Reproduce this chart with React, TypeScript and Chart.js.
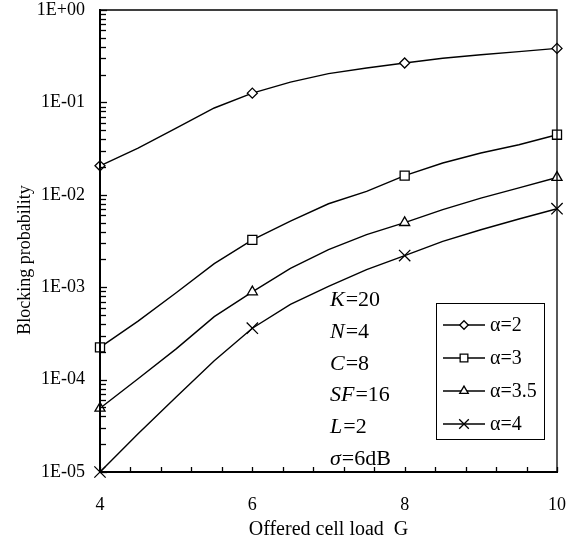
import React, { useEffect, useRef } from "react";
import { Chart, registerables } from "chart.js";

Chart.register(...registerables);

const G = [4, 4.5, 5, 5.5, 6, 6.5, 7, 7.5, 8, 8.5, 9, 9.5, 10];
const alpha2 = [0.0206, 0.032, 0.0528, 0.087, 0.126, 0.166, 0.205, 0.236, 0.267, 0.3, 0.328, 0.354, 0.384];
const alpha3 = [2.23e-4, 4.3e-4, 8.7e-4, 1.8e-3, 3.25e-3, 5.2e-3, 8.0e-3, 0.0109, 0.0161, 0.0221, 0.0283, 0.0348, 0.0447];
const alpha35 = [4.9e-5, 1.02e-4, 2.15e-4, 4.8e-4, 8.9e-4, 1.6e-3, 2.55e-3, 3.7e-3, 5.0e-3, 6.9e-3, 9.2e-3, 0.0119, 0.0154];
const alpha4 = [1e-5, 2.6e-5, 6.5e-5, 1.6e-4, 3.6e-4, 6.5e-4, 1.02e-3, 1.55e-3, 2.2e-3, 3.13e-3, 4.19e-3, 5.47e-3, 7.07e-3];
const seriesLabels = ["α=2", "α=3", "α=3.5", "α=4"];
const markerX = [4, 6, 8, 10];
const xTickLabels = [4, 6, 8, 10];
const yTickValues = [1e-5, 1e-4, 1e-3, 1e-2, 1e-1, 1];
const params: [string, string][] = [
  ["K", "=20"],
  ["N", "=4"],
  ["C", "=8"],
  ["SF", "=16"],
  ["L", "=2"],
  ["σ", "=6dB"],
];

const FONT = "'Liberation Serif', 'Times New Roman', serif";
const styles = ["rectRot", "rect", "triangle", "crossRot"];
const radii = [5, 6.4, 5.8, 8];

function drawMarker(ctx: CanvasRenderingContext2D, style: string, r: number, x: number, y: number) {
  ctx.beginPath();
  if (style === "rectRot") {
    ctx.moveTo(x, y - r);
    ctx.lineTo(x + r, y);
    ctx.lineTo(x, y + r);
    ctx.lineTo(x - r, y);
    ctx.closePath();
    ctx.fill();
    ctx.stroke();
  } else if (style === "rect") {
    const s = r * Math.SQRT1_2;
    ctx.rect(x - s, y - s, 2 * s, 2 * s);
    ctx.fill();
    ctx.stroke();
  } else if (style === "triangle") {
    ctx.moveTo(x, y - r);
    ctx.lineTo(x + r * Math.sin((2 * Math.PI) / 3), y + r / 2);
    ctx.lineTo(x - r * Math.sin((2 * Math.PI) / 3), y + r / 2);
    ctx.closePath();
    ctx.fill();
    ctx.stroke();
  } else {
    const d = r * Math.SQRT1_2;
    ctx.moveTo(x - d, y - d);
    ctx.lineTo(x + d, y + d);
    ctx.moveTo(x + d, y - d);
    ctx.lineTo(x - d, y + d);
    ctx.stroke();
  }
}

export default function App() {
  const ref = useRef<HTMLCanvasElement | null>(null);
  useEffect(() => {
    if (!ref.current) return;
    const all = [alpha2, alpha3, alpha35, alpha4];
    const datasets = all.map((arr, i) => ({
      label: seriesLabels[i],
      data: arr.map((v, j) => ({ x: G[j], y: v })),
      borderColor: "#000",
      borderWidth: 1.4,
      backgroundColor: "#fff",
      pointStyle: styles[i],
      pointBorderColor: "#000",
      pointBackgroundColor: "#fff",
      pointBorderWidth: 1.3,
      pointRadius: (ctx: any) => (ctx.raw && markerX.includes(ctx.raw.x) ? radii[i] : 0),
      tension: 0,
      clip: false as any,
    }));

    const deco = {
      id: "deco",
      afterDraw(chart: any) {
        const ctx = chart.ctx;
        const xs = chart.scales.x;
        const ys = chart.scales.y;
        const { left, right, top, bottom } = chart.chartArea;
        ctx.save();
        ctx.strokeStyle = "#000";
        // frame
        ctx.lineWidth = 1.3;
        ctx.beginPath();
        ctx.moveTo(left, top);
        ctx.lineTo(right, top);
        ctx.lineTo(right, bottom);
        ctx.stroke();
        ctx.lineWidth = 2;
        ctx.beginPath();
        ctx.moveTo(left, top - 1);
        ctx.lineTo(left, bottom);
        ctx.lineTo(right + 1, bottom);
        ctx.stroke();
        // y ticks
        ctx.lineWidth = 1.3;
        for (let e = -5; e <= 0; e++) {
          for (let m = 1; m <= 9; m++) {
            const v = m * Math.pow(10, e);
            if (v > 1.0000001) continue;
            const py = Math.round(ys.getPixelForValue(v)) + 0.5;
            ctx.beginPath();
            ctx.moveTo(left, py);
            ctx.lineTo(left + (m === 1 ? 7 : 6), py);
            ctx.stroke();
          }
        }
        // x ticks
        for (let k = 0; k <= 15; k++) {
          const v = 4 + 0.4 * k;
          const px = Math.round(xs.getPixelForValue(v)) + 0.5;
          ctx.beginPath();
          ctx.moveTo(px, bottom);
          ctx.lineTo(px, bottom - 5);
          ctx.stroke();
        }
        // axis titles
        ctx.fillStyle = "#000";
        ctx.textAlign = "center";
        ctx.textBaseline = "alphabetic";
        ctx.font = `20px ${FONT}`;
        ctx.fillText("Offered cell load  G", (left + right) / 2, 535);
        ctx.font = `18px ${FONT}`;
        ctx.save();
        ctx.translate(30, 260);
        ctx.rotate(-Math.PI / 2);
        ctx.fillText("Blocking probability", 0, 0);
        ctx.restore();
        // parameters annotation
        ctx.textAlign = "left";
        const baseY = 305.7;
        params.forEach(([it, rest], i) => {
          const y = baseY + i * 31.9;
          ctx.font = `italic 22px ${FONT}`;
          ctx.fillText(it, 330, y);
          const w = ctx.measureText(it).width;
          ctx.font = `22px ${FONT}`;
          ctx.fillText(rest, 330 + w + 1, y);
        });
        // legend
        const lx = 436, ly = 303, lw = 108, lh = 136;
        ctx.fillStyle = "#fff";
        ctx.fillRect(lx, ly, lw, lh);
        ctx.lineWidth = 1;
        ctx.strokeRect(lx + 0.5, ly + 0.5, lw, lh);
        const rowY = [325, 358, 391, 424];
        chart.data.datasets.forEach((ds: any, i: number) => {
          const y = rowY[i];
          ctx.strokeStyle = "#000";
          ctx.lineWidth = 1.4;
          ctx.beginPath();
          ctx.moveTo(443, y);
          ctx.lineTo(485, y);
          ctx.stroke();
          ctx.fillStyle = "#fff";
          ctx.lineWidth = 1.3;
          drawMarker(ctx, styles[i], radii[i] * 0.85, 464, y);
          ctx.fillStyle = "#000";
          ctx.font = `20px ${FONT}`;
          ctx.fillText(ds.label, 490, y + 6);
        });
        ctx.restore();
      },
    };

    const chart = new Chart(ref.current, {
      type: "line",
      data: { datasets },
      options: {
        animation: false,
        responsive: false,
        maintainAspectRatio: false,
        layout: { padding: { left: 0, right: 23, top: 10, bottom: 0 } },
        plugins: { legend: { display: false }, tooltip: { enabled: false } },
        scales: {
          x: {
            type: "linear",
            min: 4,
            max: 10,
            afterBuildTicks: (s: any) => {
              s.ticks = xTickLabels.map((v) => ({ value: v }));
            },
            ticks: {
              color: "#000",
              font: { family: FONT, size: 18, lineHeight: 1 },
              padding: 0,
              maxRotation: 0,
              autoSkip: false,
            },
            grid: { display: false, drawTicks: true, tickLength: 24 },
            border: { display: false },
            afterFit: (s: any) => {
              s.height = 70;
            },
          },
          y: {
            type: "logarithmic",
            min: 1e-5,
            max: 1,
            afterBuildTicks: (s: any) => {
              s.ticks = yTickValues.map((v) => ({ value: v }));
            },
            ticks: {
              color: "#000",
              font: { family: FONT, size: 18, lineHeight: 1 },
              padding: 0,
              autoSkip: false,
              callback: (v: any) => {
                const e = Math.round(Math.log10(Number(v)));
                return `1E${e >= 0 ? "+" : "-"}${String(Math.abs(e)).padStart(2, "0")}`;
              },
            },
            grid: { display: false, drawTicks: true, tickLength: 15 },
            border: { display: false },
            afterFit: (s: any) => {
              s.width = 100;
            },
          },
        },
      },
      plugins: [deco],
    } as any);
    return () => chart.destroy();
  }, []);

  return (
    <canvas
      ref={ref}
      width={580}
      height={542}
      style={{ position: "absolute", left: 0, top: 0, width: 580, height: 542, background: "#fff" }}
    />
  );
}
